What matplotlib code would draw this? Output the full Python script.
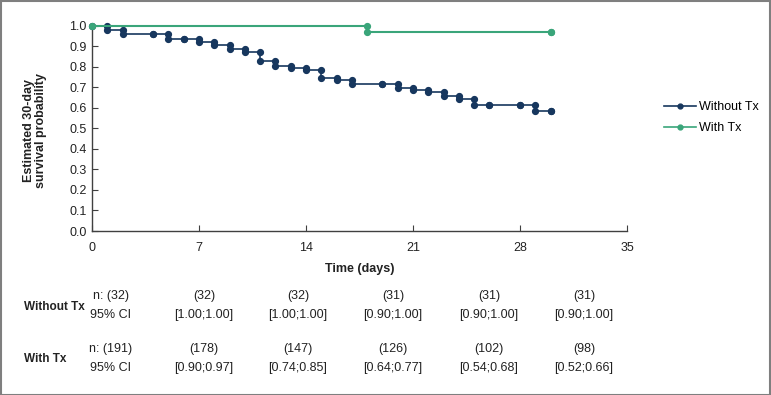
import matplotlib
matplotlib.use('Agg')
import matplotlib.pyplot as plt
from matplotlib.patches import Rectangle
from matplotlib.lines import Line2D
import matplotlib.font_manager as fm

names = {f.name for f in fm.fontManager.ttflist}
if 'Liberation Sans Narrow' in names:
    plt.rcParams['font.family'] = ['Liberation Sans Narrow', 'DejaVu Sans']
else:
    plt.rcParams['font.family'] = ['Liberation Sans', 'DejaVu Sans']

# ---- data ----
without_days = [0, 1, 2, 4, 5, 6, 7, 8, 9, 10, 11, 12, 13, 14, 15, 16, 17,
                19, 20, 21, 22, 23, 24, 25, 26, 28, 29, 30]
without_surv = [1.0, 0.978, 0.960, 0.960, 0.934, 0.934, 0.919, 0.907, 0.885,
                0.870, 0.827, 0.805, 0.792, 0.782, 0.743, 0.735, 0.715, 0.715,
                0.698, 0.686, 0.678, 0.658, 0.643, 0.615, 0.615, 0.615, 0.585,
                0.585]
with_days = [0, 18, 30]
with_surv = [1.0, 0.970, 0.970]

x_ticks = [0, 7, 14, 21, 28, 35]
y_ticks = [0.0, 0.1, 0.2, 0.3, 0.4, 0.5, 0.6, 0.7, 0.8, 0.9, 1.0]

without_n = ['n: (32)', '(32)', '(32)', '(31)', '(31)', '(31)']
without_ci = ['95% CI', '[1.00;1.00]', '[1.00;1.00]', '[0.90;1.00]',
              '[0.90;1.00]', '[0.90;1.00]']
with_n = ['n: (191)', '(178)', '(147)', '(126)', '(102)', '(98)']
with_ci = ['95% CI', '[0.90;0.97]', '[0.74;0.85]', '[0.64;0.77]',
           '[0.54;0.68]', '[0.52;0.66]']

NAVY = '#17375e'
GREEN = '#3aa57a'
TXT = '#222222'
FS = 9
W, H = 771, 395


def step_vertices(days, surv):
    xs, ys = [days[0]], [surv[0]]
    for i in range(1, len(days)):
        xs += [days[i], days[i]]
        ys += [surv[i - 1], surv[i]]
    return xs, ys


fig = plt.figure(figsize=(W / 100, H / 100), dpi=100)
ax = fig.add_axes([92 / W, 1 - 231 / H, (627 - 92) / W, (231 - 25.5) / H])

xw, yw = step_vertices(without_days, without_surv)
ax.plot(xw, yw, color=NAVY, lw=1.2, marker='o', ms=4.2, zorder=3,
        clip_on=False)
xg, yg = step_vertices(with_days, with_surv)
ax.plot(xg, yg, color=GREEN, lw=1.5, marker='o', ms=4.2, zorder=4,
        clip_on=False)

ax.set_xlim(0, 35)
ax.set_ylim(0, 1.0)
ax.set_xticks(x_ticks)
ax.set_yticks(y_ticks)
ax.set_yticklabels([f'{v:.1f}' for v in y_ticks])
for s in ['top', 'right']:
    ax.spines[s].set_visible(False)
for s in ['left', 'bottom']:
    ax.spines[s].set_color('#404040')
    ax.spines[s].set_linewidth(1.0)
ax.tick_params(axis='both', direction='in', length=4, width=0.8,
               color='#404040', labelsize=FS, labelcolor=TXT)
ax.tick_params(axis='x', pad=8)
ax.tick_params(axis='y', pad=4)

fig.text(35 / W, 1 - 130 / H, 'Estimated 30-day\nsurvival probability',
         rotation=90, ha='center', va='center', fontsize=FS,
         fontweight='bold', color=TXT, linespacing=1.1)
fig.text(360 / W, 1 - 269 / H, 'Time (days)', ha='center', va='center',
         fontsize=FS, fontweight='bold', color=TXT)

# legend
handles = [Line2D([], [], color=NAVY, marker='o', ms=3.5, lw=1.2),
           Line2D([], [], color=GREEN, marker='o', ms=3.5, lw=1.2)]
fig.legend(handles, ['Without Tx', 'With Tx'], loc='center left',
           bbox_to_anchor=(658 / W, 1 - 117.5 / H), frameon=False,
           fontsize=FS, handlelength=2.5, handletextpad=0.3,
           labelspacing=0.7, borderpad=0)

# risk table
col_x = [111, 204, 298, 393, 489, 584]
rows = [('Without Tx', without_n, without_ci, 296, 315, 307),
        ('With Tx', with_n, with_ci, 349, 368, 359)]
for label, nvals, civals, yn, yci, ylab in rows:
    fig.text(23.6 / W, 1 - ylab / H, label, ha='left', va='center',
             fontsize=8.5, fontweight='bold', color=TXT)
    for cx, t in zip(col_x, nvals):
        fig.text(cx / W, 1 - yn / H, t, ha='center', va='center',
                 fontsize=FS, color=TXT)
    for cx, t in zip(col_x, civals):
        fig.text(cx / W, 1 - yci / H, t, ha='center', va='center',
                 fontsize=FS, color=TXT)

fig.patches.append(Rectangle((0.5 / W, 0.5 / H), (W - 1.5) / W, (H - 1.5) / H,
                             transform=fig.transFigure, fill=False,
                             edgecolor='#7f7f7f', lw=1.5))

fig.savefig('out.png', dpi=100)
